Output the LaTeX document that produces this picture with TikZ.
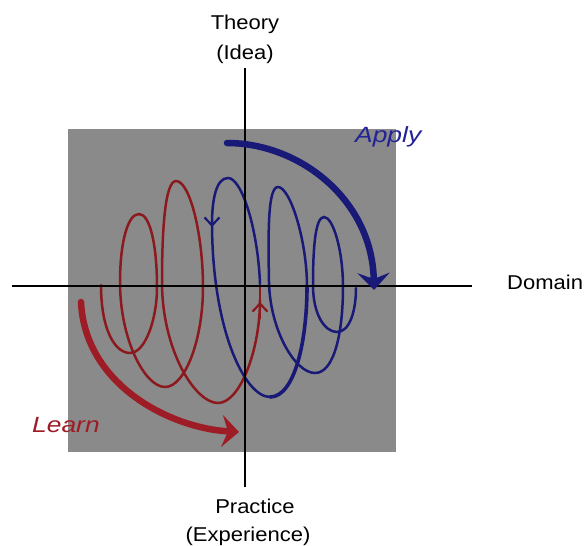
\documentclass[tikz,border=0pt]{standalone}
\usepackage{fontspec}
\setmainfont{Liberation Sans}
\usetikzlibrary{arrows.meta}
\definecolor{panelgray}{RGB}{138,138,138}
\definecolor{spiralred}{RGB}{140,25,30}
\definecolor{spiralblue}{RGB}{25,25,120}
\definecolor{learnred}{RGB}{158,28,38}
\definecolor{applyblue}{RGB}{35,35,150}
\begin{document}
\begin{tikzpicture}[x=1pt,y=-1pt,
  axisline/.style={line width=1.9pt,black},
  thinred/.style={line width=2.5pt,spiralred,line cap=round},
  thinblue/.style={line width=2.5pt,spiralblue,line cap=round},
  midtip/.style={-{Straight Barb[length=8pt,width=15pt,line width=2.2pt]}},
  bigarrow/.style={line width=6.5pt,line cap=round,-{Stealth[length=17pt,width=32pt,inset=6pt]}},
  axislabel/.style={font=\fontsize{20}{24}\selectfont,inner sep=0pt,text=black},
  flowlabel/.style={font=\fontsize{22}{26}\selectfont\itshape,inner sep=0pt}]
\useasboundingbox (0,0) rectangle (587,546);
\fill[white] (0,0) rectangle (587,546);
\fill[panelgray] (68,129) rectangle (396,452);

% red part of the spiral
\draw[thinred] (101,285) .. controls (101,330) and (115,353) .. (130,353)
  .. controls (145,353) and (157,320) .. (157,287)
  .. controls (157,245) and (150,214) .. (139,214)
  .. controls (127,214) and (120,245) .. (120,282)
  .. controls (120,340) and (145,387) .. (165,387)
  .. controls (185,387) and (203,340) .. (203,287)
  .. controls (203,235) and (190,181) .. (176,181)
  .. controls (165,181) and (162,230) .. (162,282)
  .. controls (162,350) and (195,403) .. (218,403)
  .. controls (240,403) and (260,350) .. (260,300);
\draw[thinred,midtip] (260,318) -- (260,302);
\draw[thinred] (260,300) -- (260,284);

% blue part of the spiral
\draw[thinblue,midtip] (260,284) .. controls (258,230) and (242,178) .. (228,178)
  .. controls (216,178) and (212,200) .. (212,227);
\draw[thinblue] (212,222) .. controls (212,330) and (245,397) .. (270,397);
\draw[thinblue,line width=3.6pt] (270,397) .. controls (295,397) and (307,340) .. (307,287);
\draw[thinblue] (307,287)
  .. controls (307,240) and (290,187) .. (278,187)
  .. controls (268,187) and (268,230) .. (269,282)
  .. controls (270,330) and (295,373) .. (315,373)
  .. controls (335,373) and (343,330) .. (343,287)
  .. controls (343,250) and (333,217) .. (324,217)
  .. controls (315,217) and (313,250) .. (313,285)
  .. controls (313,315) and (325,332) .. (337,332)
  .. controls (350,332) and (356,310) .. (356,288);

% axes
\coordinate (vtop) at (245,68);
\coordinate (vbot) at (245,487);
\coordinate (hleft) at (12,286);
\coordinate (hright) at (472,286);
\draw[axisline] (vtop) -- (vbot);
\draw[axisline] (hleft) -- (hright);

% big arrows
\coordinate (applyS) at (227,143);
\coordinate (applyE) at (374,290);
\draw[bigarrow,spiralblue] (applyS) .. controls (300,143) and (372,200) .. (applyE);
\coordinate (learnS) at (81,302);
\coordinate (learnE) at (239,432);
\draw[bigarrow,learnred] (learnS) .. controls (85,385) and (170,428) .. (learnE);

% labels
\node[axislabel,anchor=base] (theoryA) at (245,30) {\scalebox{1.1}[1]{Theory}};
\node[axislabel,anchor=base] (theoryB) at (245,59) {\scalebox{1.1}[1]{(Idea)}};
\node[axislabel,anchor=base] (practiceA) at (255,513) {\scalebox{1.1}[1]{Practice}};
\node[axislabel,anchor=base] (practiceB) at (248,541) {\scalebox{1.1}[1]{(Experience)}};
\node[axislabel,anchor=base west] (domain) at (507,289) {\scalebox{1.1}[1]{Domain}};
\node[flowlabel,anchor=base west,text=learnred] (learn) at (32,432) {\scalebox{1.2}[1]{Learn}};
\node[flowlabel,anchor=base west,text=applyblue] (apply) at (355,142) {\scalebox{1.2}[1]{Apply}};
\end{tikzpicture}
\end{document}
